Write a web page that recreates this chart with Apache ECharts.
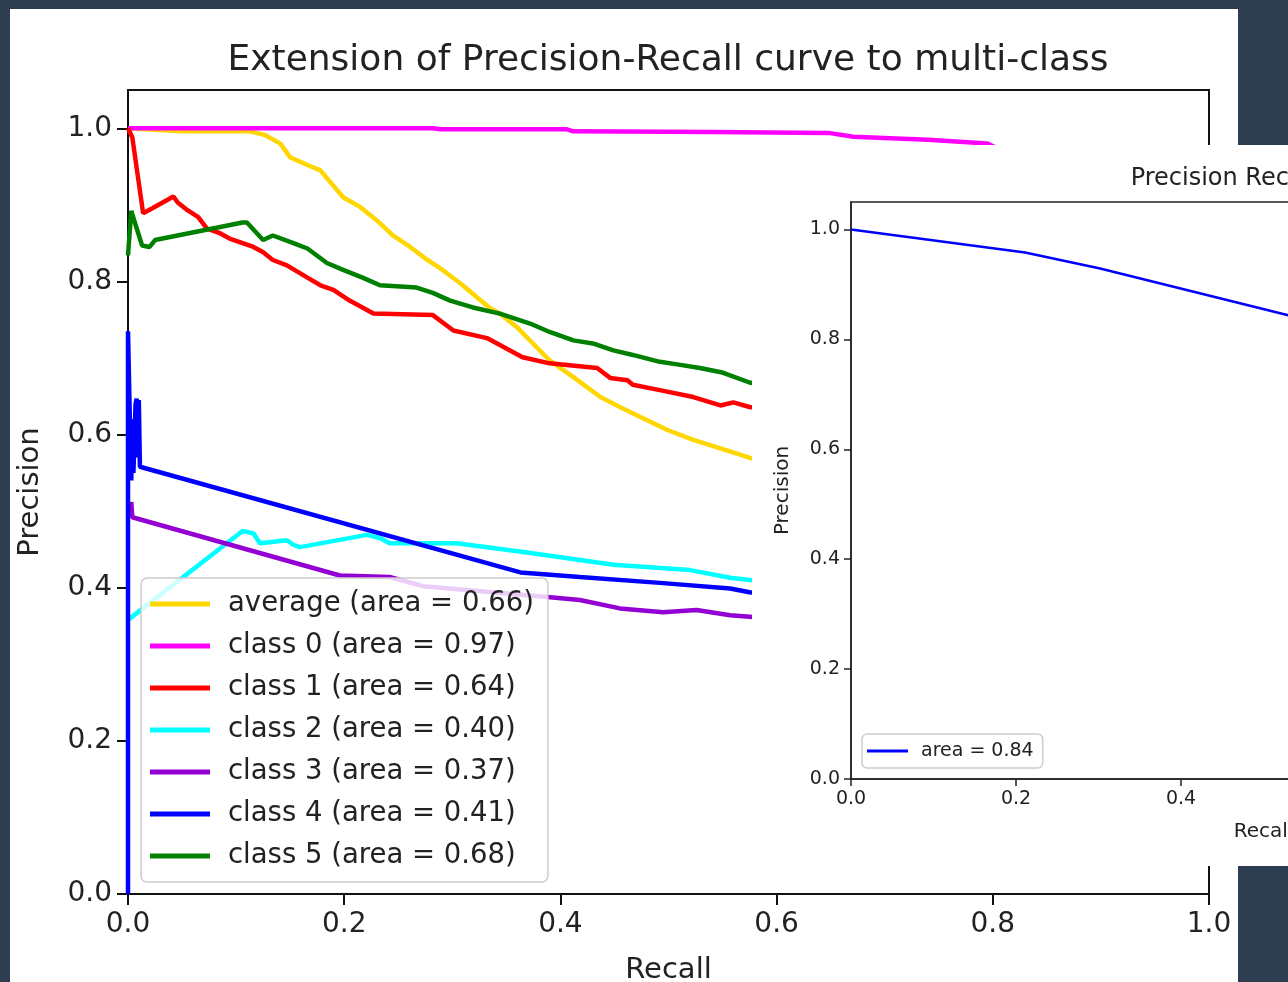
<!DOCTYPE html>
<html>
<head>
<meta charset="utf-8">
<script src="https://cdn.jsdelivr.net/npm/echarts@6/dist/echarts.min.js"></script>
<style>
  html, body { margin: 0; padding: 0; width: 1288px; height: 982px; overflow: hidden; background: #2c3e50; }
  #main { position: absolute; left: 10px; top: 9px; width: 1228px; height: 973px; background: #fff; }
  #inset { position: absolute; left: 752px; top: 145px; width: 1010px; height: 721px; background: #fff; }
</style>
</head>
<body>
<div id="main"></div>
<div id="inset"></div>
<script>
// main figure: [recall, precision] points
const averagePts = [[0, 1.0], [0.050, 0.996], [0.113, 0.996], [0.127, 0.991], [0.141, 0.980], [0.150, 0.962], [0.166, 0.952],
  [0.178, 0.945], [0.187, 0.930], [0.199, 0.910], [0.215, 0.897], [0.230, 0.880], [0.245, 0.860], [0.261, 0.845],
  [0.277, 0.828], [0.291, 0.815], [0.307, 0.798], [0.323, 0.779], [0.335, 0.765], [0.344, 0.758], [0.360, 0.740],
  [0.378, 0.714], [0.390, 0.697], [0.412, 0.675], [0.437, 0.649], [0.455, 0.636], [0.474, 0.623], [0.499, 0.606],
  [0.523, 0.593], [0.548, 0.582], [0.577, 0.569], [0.59, 0.563]];
const class0Pts = [[0, 1.0], [0.282, 1.0], [0.289, 0.9987], [0.406, 0.9987], [0.412, 0.996], [0.541, 0.995],
  [0.648, 0.994], [0.671, 0.989], [0.740, 0.985], [0.795, 0.980], [0.81, 0.970], [0.90, 0.958]];
const class1Pts = [[0, 1.0], [0.004, 0.988], [0.014, 0.889], [0.023, 0.896], [0.042, 0.911], [0.046, 0.903], [0.055, 0.893],
  [0.065, 0.884], [0.073, 0.869], [0.085, 0.863], [0.094, 0.856], [0.106, 0.850], [0.116, 0.845], [0.125, 0.838],
  [0.134, 0.828], [0.147, 0.821], [0.166, 0.805], [0.178, 0.795], [0.190, 0.789], [0.205, 0.775], [0.227, 0.758],
  [0.282, 0.756], [0.301, 0.736], [0.332, 0.726], [0.365, 0.701], [0.390, 0.693], [0.434, 0.687], [0.446, 0.674],
  [0.462, 0.671], [0.467, 0.665], [0.492, 0.658], [0.523, 0.649], [0.548, 0.638], [0.560, 0.642], [0.575, 0.636], [0.59, 0.633]];
const class2Pts = [[0, 0.358], [0.106, 0.474], [0.116, 0.471], [0.122, 0.458], [0.147, 0.462], [0.153, 0.456], [0.159, 0.453],
  [0.221, 0.469], [0.233, 0.465], [0.242, 0.458], [0.304, 0.458], [0.369, 0.446], [0.449, 0.430], [0.520, 0.423],
  [0.557, 0.413], [0.575, 0.410], [0.59, 0.408]];
const class3Pts = [[0.003, 0.512], [0.004, 0.492], [0.196, 0.416], [0.242, 0.414], [0.273, 0.402], [0.388, 0.388],
  [0.418, 0.384], [0.455, 0.373], [0.495, 0.368], [0.526, 0.371], [0.557, 0.364], [0.575, 0.362], [0.59, 0.360]];
const class4Pts = [[0, 0], [0, 0.735], [0.002, 0.60], [0.003, 0.54], [0.004, 0.62], [0.005, 0.55], [0.007, 0.64],
  [0.008, 0.647], [0.009, 0.57], [0.010, 0.645], [0.011, 0.558], [0.363, 0.420], [0.418, 0.414], [0.495, 0.406],
  [0.557, 0.399], [0.575, 0.394], [0.59, 0.392]];
const class5Pts = [[0, 0.834], [0.003, 0.892], [0.013, 0.847], [0.020, 0.845], [0.025, 0.854], [0.106, 0.877], [0.110, 0.877],
  [0.125, 0.854], [0.134, 0.860], [0.153, 0.850], [0.166, 0.843], [0.184, 0.824], [0.199, 0.815], [0.217, 0.805],
  [0.233, 0.795], [0.267, 0.792], [0.282, 0.785], [0.298, 0.775], [0.319, 0.766], [0.344, 0.758], [0.372, 0.745],
  [0.390, 0.734], [0.412, 0.723], [0.430, 0.719], [0.449, 0.710], [0.467, 0.704], [0.492, 0.695], [0.511, 0.691],
  [0.529, 0.687], [0.550, 0.681], [0.575, 0.668], [0.59, 0.664]];
const seriesNames = ['average (area = 0.66)', 'class 0 (area = 0.97)', 'class 1 (area = 0.64)', 'class 2 (area = 0.40)',
  'class 3 (area = 0.37)', 'class 4 (area = 0.41)', 'class 5 (area = 0.68)'];
const seriesColors = ['#ffd700', '#ff00ff', '#ff0000', '#00ffff', '#9400d3', '#0000ff', '#008000'];
const tickValues = [0, 0.2, 0.4, 0.6, 0.8, 1.0];

// second (overlapping) figure
const insetPts = [[0, 1.0], [0.211, 0.958], [0.302, 0.929], [0.530, 0.844], [0.56, 0.833]];
const insetTicks = [0, 0.2, 0.4, 0.6, 0.8, 1.0];

const FONT = 'DejaVu Sans';
const fmt = v => v.toFixed(1);

const mainChart = echarts.init(document.getElementById('main'));
const allPts = [averagePts, class0Pts, class1Pts, class2Pts, class3Pts, class4Pts, class5Pts];
mainChart.setOption({
  animation: false,
  textStyle: { fontFamily: FONT },
  graphic: [{
    type: 'text', x: 658, y: 52,
    style: { text: 'Extension of Precision-Recall curve to multi-class', font: '36px "DejaVu Sans"', fill: '#222',
      textAlign: 'center', textVerticalAlign: 'middle' }
  }],
  grid: { left: 118, right: 29, top: 81, bottom: 88, outerBoundsMode: 'none', containLabel: false,
    show: true, borderColor: '#111', borderWidth: 2, backgroundColor: 'transparent' },
  legend: {
    orient: 'vertical', left: 131, top: 569,
    data: seriesNames,
    icon: 'rect', itemWidth: 60, itemHeight: 5, itemGap: 12,
    padding: [11, 14, 11, 9],
    backgroundColor: 'rgba(255,255,255,0.8)', borderColor: '#cccccc', borderWidth: 1.5, borderRadius: 6,
    textStyle: { fontFamily: FONT, fontSize: 27.5, color: '#222', lineHeight: 30, padding: [0, 0, 0, 13] },
    selectedMode: false
  },
  xAxis: {
    type: 'value', min: 0, max: 1, interval: 0.2,
    name: 'Recall', nameLocation: 'middle', nameGap: 62,
    nameTextStyle: { fontFamily: FONT, fontSize: 29, color: '#222' },
    axisLine: { lineStyle: { color: '#111', width: 2 } },
    axisTick: { show: true, length: 11, lineStyle: { color: '#111', width: 2 } },
    axisLabel: { fontFamily: FONT, fontSize: 28, color: '#222', margin: 17, formatter: fmt },
    splitLine: { show: false }
  },
  yAxis: {
    type: 'value', min: 0, max: 1.05, interval: 0.2,
    name: 'Precision', nameLocation: 'middle', nameGap: 83,
    nameTextStyle: { fontFamily: FONT, fontSize: 29, color: '#222' },
    axisLine: { show: true, lineStyle: { color: '#111', width: 2 } },
    axisTick: { show: true, length: 11, lineStyle: { color: '#111', width: 2 }, customValues: tickValues },
    axisLabel: { fontFamily: FONT, fontSize: 28, color: '#222', margin: 16, formatter: fmt,
      customValues: tickValues },
    splitLine: { show: false }
  },
  series: allPts.map((pts, i) => ({
    name: seriesNames[i], type: 'line', data: pts, showSymbol: false,
    lineStyle: { color: seriesColors[i], width: 4.5 }, itemStyle: { color: seriesColors[i] },
    z: 2 + i * 0.01
  }))
});

const insetChart = echarts.init(document.getElementById('inset'));
insetChart.setOption({
  animation: false,
  textStyle: { fontFamily: FONT },
  graphic: [{
    type: 'text', x: 511, y: 34,
    style: { text: 'Precision Recall Curve', font: '24px "DejaVu Sans"', fill: '#222',
      textAlign: 'center', textVerticalAlign: 'middle' }
  }],
  grid: { left: 99, right: 86, top: 57, bottom: 87, outerBoundsMode: 'none', containLabel: false,
    show: true, borderColor: '#222', borderWidth: 1.5, backgroundColor: 'transparent' },
  legend: {
    left: 110, top: 589,
    data: ['area = 0.84'],
    icon: 'rect', itemWidth: 41, itemHeight: 3,
    padding: [6, 9, 6, 5],
    backgroundColor: 'rgba(255,255,255,0.8)', borderColor: '#cccccc', borderWidth: 1.5, borderRadius: 5,
    textStyle: { fontFamily: FONT, fontSize: 19, color: '#222', lineHeight: 22, padding: [0, 0, 0, 8] },
    selectedMode: false
  },
  xAxis: {
    type: 'value', min: 0, max: 1, interval: 0.2,
    name: 'Recall', nameLocation: 'middle', nameGap: 43,
    nameTextStyle: { fontFamily: FONT, fontSize: 20, color: '#222' },
    axisLine: { lineStyle: { color: '#222', width: 1.5 } },
    axisTick: { show: true, length: 7, lineStyle: { color: '#222', width: 1.5 } },
    axisLabel: { fontFamily: FONT, fontSize: 19, color: '#222', margin: 11, formatter: fmt },
    splitLine: { show: false }
  },
  yAxis: {
    type: 'value', min: 0, max: 1.05, interval: 0.2,
    name: 'Precision', nameLocation: 'middle', nameGap: 58,
    nameTextStyle: { fontFamily: FONT, fontSize: 20, color: '#222' },
    axisLine: { show: true, lineStyle: { color: '#222', width: 1.5 } },
    axisTick: { show: true, length: 7, lineStyle: { color: '#222', width: 1.5 }, customValues: insetTicks },
    axisLabel: { fontFamily: FONT, fontSize: 19, color: '#222', margin: 11, formatter: fmt,
      customValues: insetTicks },
    splitLine: { show: false }
  },
  series: [{
    name: 'area = 0.84', type: 'line', data: insetPts, showSymbol: false,
    lineStyle: { color: '#0000ff', width: 2.5 }, itemStyle: { color: '#0000ff' }
  }]
});
</script>
</body>
</html>
